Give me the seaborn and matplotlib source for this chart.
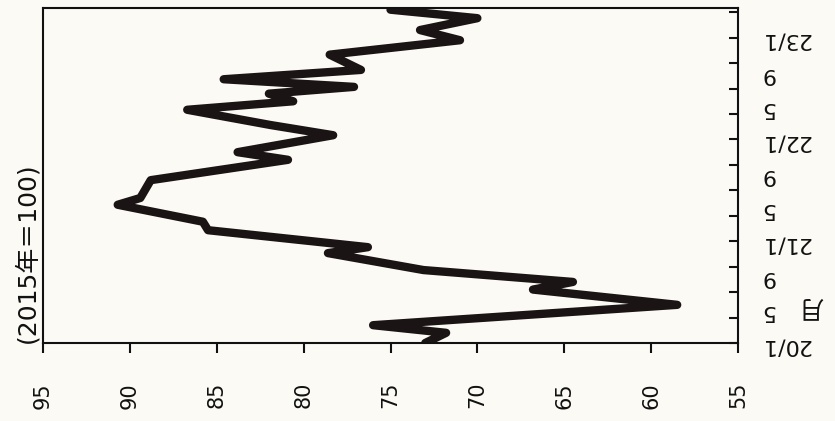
import numpy as np
import pandas as pd
import seaborn as sns
import matplotlib.pyplot as plt

# index values (2015=100), months counted from 2020/1
months = [0.0, 1.2, 2.1, 4.5, 6.3, 7.2, 8.6, 10.6, 11.3, 13.3, 14.3, 16.3, 17.1,
          19.2, 21.6, 22.5, 24.5, 25.7, 27.5, 28.5, 29.4, 30.2, 31.1, 32.2, 34.0,
          35.7, 36.9, 38.3, 39.3]
index_vals = [73.0, 71.8, 76.0, 58.5, 66.8, 64.5, 73.1, 78.6, 76.3, 85.5, 85.8, 90.7, 89.4,
              88.8, 80.9, 83.8, 78.3, 81.9, 86.7, 80.6, 82.0, 77.1, 84.6, 76.7, 78.5,
              71.0, 73.3, 70.0, 75.0]

value_ticks = [95, 90, 85, 80, 75, 70, 65, 60, 55]
label_months = [0, 4, 8, 12, 16, 20, 24, 28, 32, 36]
label_text = ["20/1", "5", "9", "21/1", "5", "9", "22/1", "5", "9", "23/1"]
tick_months = list(range(0, 40, 3))

df = pd.DataFrame({"month": months, "value": index_vals})

sns.set_style("ticks")
plt.rcParams["font.family"] = ["DejaVu Sans", "Noto Sans CJK JP"]

bg = "#fbfaf5"
ink = "#111111"
fig = plt.figure(figsize=(8.35, 4.21), dpi=100, facecolor=bg)
ax = fig.add_axes([43 / 835, 78 / 421, 695 / 835, 335 / 421], facecolor=bg)

# chart is drawn turned on its side: value runs horizontally, time vertically
sns.lineplot(data=df, x="value", y="month", sort=False, estimator=None,
             color="#1a1414", linewidth=6.0, ax=ax)
for ln in ax.get_lines():
    ln.set_solid_capstyle("round")
    ln.set_solid_joinstyle("round")

ax.set_xlim(95, 55)
ax.set_ylim(0, 39.5)
ax.set_xlabel("")
ax.set_ylabel("")

ax.set_xticks(value_ticks)
ax.set_xticklabels([str(v) for v in value_ticks], rotation=90, fontsize=15)
ax.tick_params(axis="x", direction="out", length=7, width=1.5, pad=21, colors=ink)

# quarterly tick marks on the right spine
ax.yaxis.tick_right()
ax.set_yticks(tick_months)
ax.set_yticklabels([])
ax.tick_params(axis="y", direction="in", length=6.5, width=1.5, colors=ink)

# month labels every 4 months, no marks
sec = ax.secondary_yaxis("right")
sec.set_yticks(label_months)
sec.set_yticklabels(label_text, rotation=180, fontsize=16)
sec.tick_params(length=0, pad=16, colors=ink)
sec.spines["right"].set_visible(False)

for sp in ax.spines.values():
    sp.set_visible(True)
    sp.set_linewidth(1.5)
    sp.set_color(ink)

fig.text(27 / 835, 78 / 421, "(2015年＝100)", rotation=90, ha="center", va="bottom",
         fontsize=18, color=ink)
fig.text(811 / 835, (421 - 306) / 421, "月", rotation=180, ha="center", va="center",
         fontsize=18, color=ink, family=["Noto Sans CJK JP"])

fig.savefig("out.png", dpi=100, facecolor=bg)
